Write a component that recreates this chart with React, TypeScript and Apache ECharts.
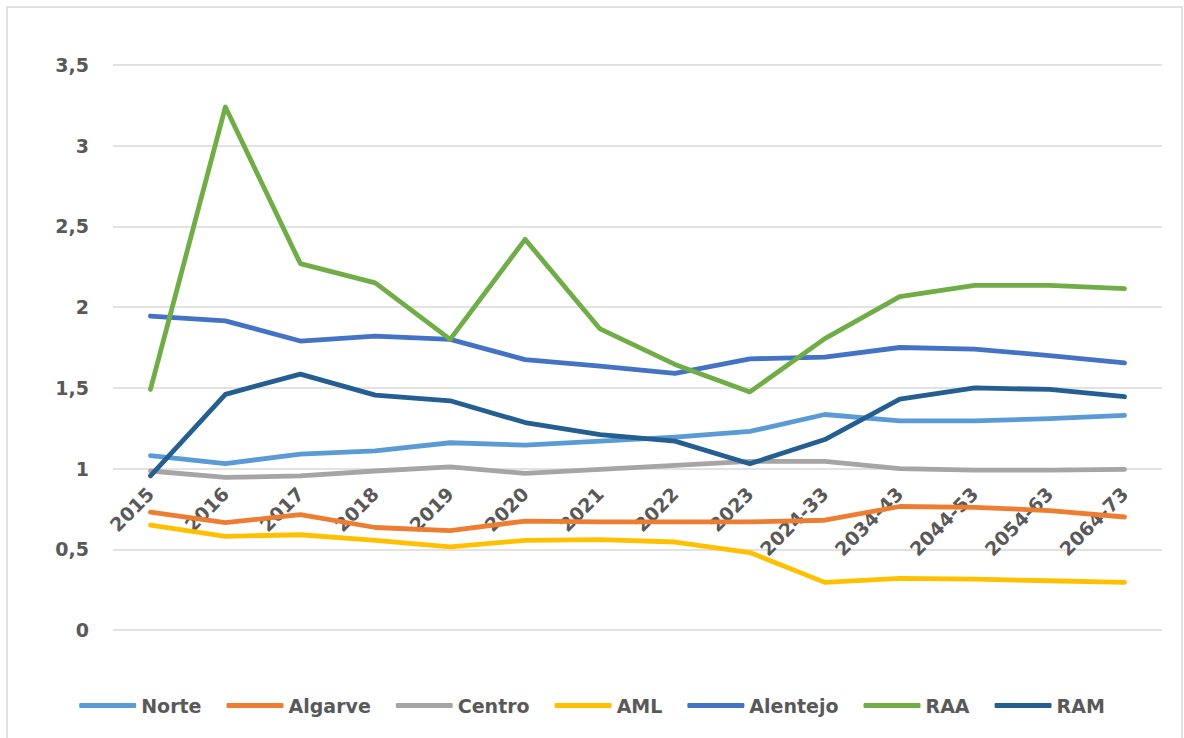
import React, { useEffect, useRef } from "react";
import * as echarts from "echarts";

const categories = ["2015", "2016", "2017", "2018", "2019", "2020", "2021", "2022", "2023", "2024-33", "2034-43", "2044-53", "2054-63", "2064-73"];

const norte = [1.08, 1.03, 1.09, 1.11, 1.16, 1.145, 1.17, 1.195, 1.23, 1.335, 1.295, 1.295, 1.31, 1.33];
const algarve = [0.73, 0.665, 0.715, 0.635, 0.615, 0.675, 0.67, 0.67, 0.67, 0.68, 0.765, 0.76, 0.74, 0.7];
const centro = [0.985, 0.945, 0.955, 0.985, 1.01, 0.97, 0.995, 1.02, 1.045, 1.045, 1.0, 0.99, 0.99, 0.995];
const aml = [0.65, 0.58, 0.59, 0.555, 0.515, 0.555, 0.56, 0.545, 0.48, 0.295, 0.32, 0.315, 0.305, 0.295];
const alentejo = [1.945, 1.915, 1.79, 1.82, 1.8, 1.675, 1.635, 1.59, 1.68, 1.69, 1.75, 1.74, 1.7, 1.655];
const raa = [1.49, 3.24, 2.27, 2.15, 1.8, 2.42, 1.865, 1.645, 1.475, 1.805, 2.065, 2.135, 2.135, 2.115];
const ram = [0.955, 1.46, 1.585, 1.455, 1.42, 1.285, 1.21, 1.17, 1.03, 1.18, 1.43, 1.5, 1.49, 1.445];

const seriesDefs = [
  { name: "Norte", data: norte, color: "#5B9BD5" },
  { name: "Algarve", data: algarve, color: "#ED7D31" },
  { name: "Centro", data: centro, color: "#A5A5A5" },
  { name: "AML", data: aml, color: "#FFC000" },
  { name: "Alentejo", data: alentejo, color: "#4472C4" },
  { name: "RAA", data: raa, color: "#70AD47" },
  { name: "RAM", data: ram, color: "#255E91" },
];

const FONT = "'DejaVu Sans', sans-serif";
const TEXT_COLOR = "#595959";

export default function App() {
  const ref = useRef<HTMLDivElement>(null);

  useEffect(() => {
    if (!ref.current) return;
    const chart = echarts.init(ref.current, null, { renderer: "svg" });
    const gridTop = 65;
    const gridBottom = 108;
    const plotH = 738 - gridTop - gridBottom;
    const axisCross = 1; // horizontal axis crosses at value 1
    const yMax = 3.5;
    chart.setOption({
      animation: false,
      backgroundColor: "#ffffff",
      textStyle: { fontFamily: FONT },
      graphic: [
        {
          type: "rect",
          shape: { x: 7, y: 7, width: 1175, height: 745 },
          style: { fill: "none", stroke: "#D9D9D9", lineWidth: 1.5 },
          silent: true,
        },
      ],
      grid: { left: 113, right: 22, top: gridTop, bottom: gridBottom, containLabel: false },
      legend: {
        data: seriesDefs.map((s) => s.name),
        top: 691,
        left: "center",
        icon: "roundRect",
        itemWidth: 57,
        itemHeight: 5,
        itemGap: 25,
        textStyle: { fontFamily: FONT, fontSize: 19, fontWeight: "bold", color: TEXT_COLOR },
      },
      xAxis: {
        type: "category",
        data: categories,
        boundaryGap: true,
        offset: -(plotH * axisCross) / yMax,
        axisLine: { show: false },
        axisTick: { show: false },
        axisLabel: {
          rotate: 45,
          interval: 0,
          margin: 22,
          fontFamily: FONT,
          fontSize: 19,
          fontWeight: "bold",
          color: TEXT_COLOR,
        },
        splitLine: { show: false },
      },
      yAxis: {
        type: "value",
        min: 0,
        max: yMax,
        interval: 0.5,
        axisLine: { show: false },
        axisTick: { show: false },
        axisLabel: {
          margin: 24,
          fontFamily: FONT,
          fontSize: 19,
          fontWeight: "bold",
          color: TEXT_COLOR,
          formatter: (v: number) => String(v).replace(".", ","),
        },
        splitLine: { lineStyle: { color: "#D9D9D9", width: 1.5 } },
      },
      series: seriesDefs.map((s) => ({
        name: s.name,
        type: "line",
        data: s.data,
        showSymbol: false,
        symbol: "none",
        color: s.color,
        lineStyle: { color: s.color, width: 4.8, cap: "round", join: "round" },
        itemStyle: { color: s.color },
      })),
    });
    return () => chart.dispose();
  }, []);

  return (
    <div
      ref={ref}
      style={{ position: "absolute", left: 0, top: 0, width: 1184, height: 738, background: "#fff" }}
    />
  );
}
